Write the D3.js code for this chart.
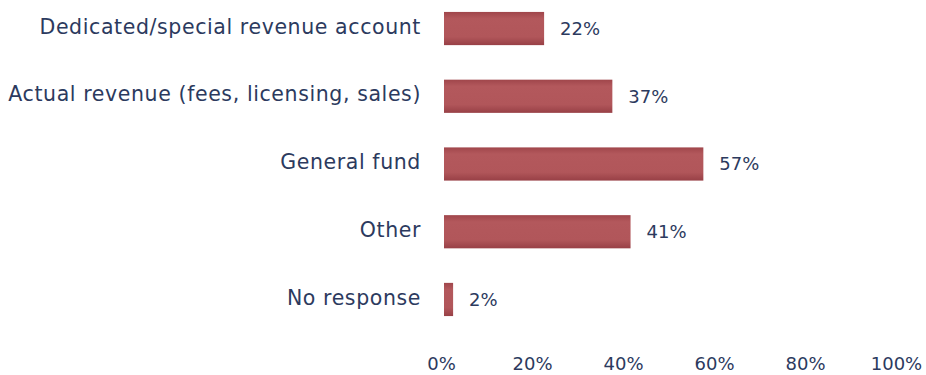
<!DOCTYPE html>
<html>
<head>
<meta charset="utf-8">
<script src="https://cdn.jsdelivr.net/npm/d3@7"></script>
<style>
  html, body { margin: 0; padding: 0; background: #fff; }
  svg text { font-family: "DejaVu Sans", Verdana, sans-serif; fill: #2c3a5e; }
</style>
</head>
<body>
<svg id="chart" width="926" height="375"></svg>
<script>
// Funding sources (share of respondents)
const categories = [
  "Dedicated/special revenue account",
  "Actual revenue (fees, licensing, sales)",
  "General fund",
  "Other",
  "No response"
];
const values = [22, 37, 57, 41, 2];
const tickValues = [0, 20, 40, 60, 80, 100];

const svg = d3.select("#chart");

const x = d3.scaleLinear().domain([0, 100]).range([444, 899]);
const y = d3.scaleBand().domain(categories).range([-5, 333]).paddingInner(0.51).paddingOuter(0.25);

// Soft shading along each bar
const defs = svg.append("defs");
const grad = defs.append("linearGradient")
  .attr("id", "barFill").attr("x1", 0).attr("y1", 0).attr("x2", 0).attr("y2", 1);
grad.append("stop").attr("offset", "0%").attr("stop-color", "#a0464b");
grad.append("stop").attr("offset", "20%").attr("stop-color", "#b3585c");
grad.append("stop").attr("offset", "75%").attr("stop-color", "#b1565a");
grad.append("stop").attr("offset", "100%").attr("stop-color", "#984046");

const rows = categories.map((c, i) => ({ cat: c, val: values[i] }));

svg.append("g").selectAll("rect")
  .data(rows).join("rect")
  .attr("x", x(0))
  .attr("y", d => y(d.cat))
  .attr("width", d => x(d.val) - x(0))
  .attr("height", y.bandwidth())
  .attr("fill", "url(#barFill)");

// Category labels
svg.append("g").selectAll("text")
  .data(rows).join("text")
  .attr("x", 421)
  .attr("y", d => y(d.cat) + y.bandwidth() / 2 - 2)
  .attr("dy", "0.35em")
  .attr("text-anchor", "end")
  .attr("font-size", 20.5)
  .attr("letter-spacing", 0.6)
  .text(d => d.cat);

// Value labels
svg.append("g").selectAll("text")
  .data(rows).join("text")
  .attr("x", d => x(d.val) + 16)
  .attr("y", d => y(d.cat) + y.bandwidth() / 2)
  .attr("dy", "0.35em")
  .attr("font-size", 18)
  .text(d => d.val + "%");

// Percent axis without line or ticks
const axis = d3.axisBottom(x).tickValues(tickValues).tickFormat(d => d + "%").tickSize(0).tickPadding(0);
const ax = svg.append("g").attr("transform", "translate(-3,357)").call(axis);
ax.select(".domain").remove();
ax.selectAll("text")
  .attr("font-size", 18)
  .attr("font-family", null)
  .attr("fill", null);
</script>
</body>
</html>
